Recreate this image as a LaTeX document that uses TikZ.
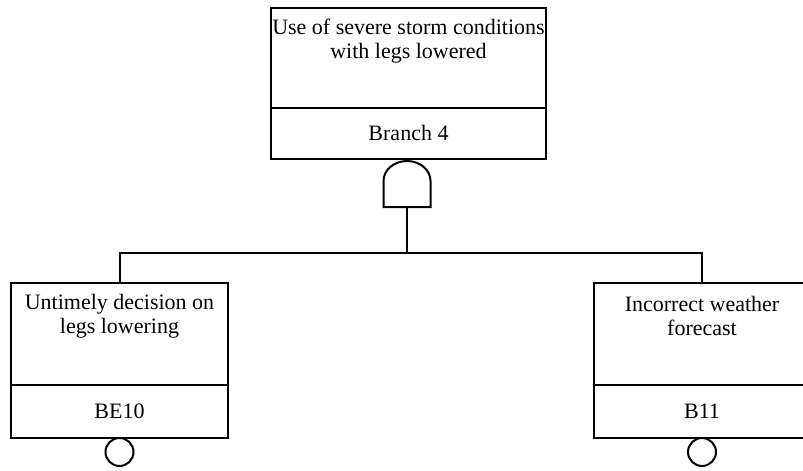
\documentclass[tikz,border=0pt]{standalone}
\usepackage{fontspec}
\setmainfont{Liberation Serif}
\begin{document}
\begin{tikzpicture}[x=1pt,y=-1pt,line width=2pt,
    evbox/.style={draw, rectangle, inner sep=0pt},
    evtext/.style={align=center, inner sep=0pt, font=\fontsize{22}{24}\selectfont},
    basic/.style={draw, circle, inner sep=0pt, minimum size=28pt}]
    \useasboundingbox (0,0) rectangle (803,471);
    % top event
    \node [evbox, minimum width=275pt, minimum height=151pt] (top) at (408.5,83.5) {};
    \draw ([yshift=-101pt]top.north west) -- ([yshift=-101pt]top.north east);
    \node [evtext] (toptxt) at (408.5,41) {Use of severe storm conditions\\with legs lowered};
    \node [evtext] (topid) at (408.5,133) {Branch 4};
    % and gate
    \coordinate (gate) at (407,207);
    \draw (gate) ++(-23.5,0) -- ++(0,-26)
        arc [start angle=180, end angle=0, x radius=23.5pt, y radius=20pt]
        -- ++(0,26) -- cycle;
    % basic events
    \node [evbox, minimum width=217pt, minimum height=155pt] (left) at (119.5,360.5) {};
    \draw ([yshift=-103pt]left.north west) -- ([yshift=-103pt]left.north east);
    \node [evtext] (lefttxt) at (119.5,316) {Untimely decision on\\legs lowering};
    \node [evtext] (leftid) at (119.5,411) {BE10};
    \node [basic] (leftc) at (119.5,452) {};
    \node [evbox, minimum width=217pt, minimum height=155pt] (right) at (702,360.5) {};
    \draw ([yshift=-103pt]right.north west) -- ([yshift=-103pt]right.north east);
    \node [evtext] (righttxt) at (702,316) {Incorrect weather\\forecast};
    \node [evtext] (rightid) at (702,411) {B11};
    \node [basic] (rightc) at (702,452) {};
    % connectors
    \coordinate (bar) at (407,253);
    \draw (gate) -- (bar);
    \draw (left.north) |- (bar) -| (right.north);
\end{tikzpicture}
\end{document}
